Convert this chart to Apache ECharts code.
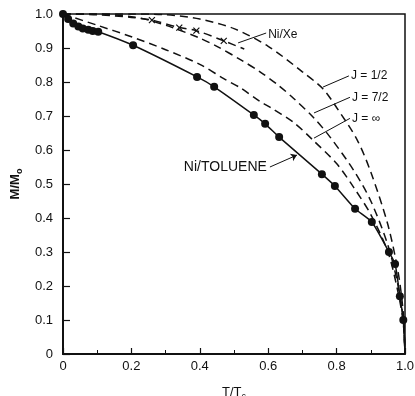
<!DOCTYPE html>
<html>
<head>
<meta charset="utf-8">
<script src="https://cdn.jsdelivr.net/npm/echarts@6/dist/echarts.min.js"></script>
<style>
  html, body { margin: 0; padding: 0; background: #fff; }
  #chart { width: 415px; height: 396px; }
</style>
</head>
<body>
<div id="chart"></div>
<script>
// [T/Tc, M/Mo]
const jHalf = [[0, 1], [0.2, 1], [0.3, 0.998], [0.4, 0.985], [0.5, 0.957], [0.6, 0.905], [0.7, 0.83],
  [0.76, 0.78], [0.8, 0.725], [0.86, 0.63], [0.9, 0.535], [0.95, 0.38], [0.98, 0.24], [0.995, 0.12], [1, 0]];
const jSevenHalf = [[0, 1], [0.1, 1], [0.2, 0.992], [0.25, 0.982], [0.32, 0.96], [0.4, 0.929], [0.45, 0.905],
  [0.52, 0.865], [0.576, 0.83], [0.63, 0.79], [0.673, 0.753], [0.731, 0.697], [0.781, 0.638], [0.85, 0.54],
  [0.9, 0.45], [0.95, 0.32], [0.98, 0.2], [0.995, 0.1], [1, 0]];
const jInfinity = [[0, 1], [0.1, 0.967], [0.2, 0.933], [0.3, 0.895], [0.4, 0.852], [0.47, 0.81], [0.52, 0.782],
  [0.576, 0.743], [0.605, 0.726], [0.673, 0.682], [0.731, 0.629], [0.8, 0.56], [0.85, 0.49], [0.9, 0.41],
  [0.95, 0.3], [0.98, 0.18], [0.995, 0.09], [1, 0]];
const niXeLine = [[0, 1], [0.1, 0.998], [0.2, 0.99], [0.26, 0.982], [0.34, 0.96], [0.39, 0.951], [0.47, 0.921], [0.53, 0.897]];
const niXePoints = [[0.26, 0.982], [0.34, 0.96], [0.39, 0.951], [0.47, 0.921]];
const tolueneLine = [[0, 1], [0.015, 0.985], [0.03, 0.972], [0.045, 0.963], [0.058, 0.957], [0.074, 0.954],
  [0.087, 0.95], [0.103, 0.948], [0.205, 0.908], [0.392, 0.815], [0.442, 0.786], [0.558, 0.703], [0.591, 0.677],
  [0.632, 0.638], [0.757, 0.529], [0.795, 0.494], [0.854, 0.427], [0.903, 0.388], [0.953, 0.3], [0.971, 0.265],
  [0.985, 0.17], [0.995, 0.1], [1, 0]];
const toluenePoints = tolueneLine.slice(0, -1);

// annotation labels: [text, t, m, align] and pointer segments [[t1, m1], [t2, m2]]
const labels = [
  ["Ni/Xe", 0.6, 0.94, "left"],
  ["J = 1/2", 0.842, 0.818, "left"],
  ["J = 7/2", 0.845, 0.755, "left"],
  ["J = \u221E", 0.845, 0.693, "left"],
  ["Ni/TOLUENE", 0.596, 0.55, "right"],
];
const pointers = [
  [[0.594, 0.944], [0.512, 0.915]],
  [[0.836, 0.818], [0.76, 0.785]],
  [[0.839, 0.755], [0.734, 0.709]],
  [[0.839, 0.693], [0.734, 0.635]],
];
const toluenePointer = [[0.605, 0.55], [0.684, 0.585]];

const FONT = "Liberation Sans";
const INK = "#111";
const chart = echarts.init(document.getElementById("chart"), null, { renderer: "canvas" });

const dashed = (data) => ({
  type: "line",
  data,
  symbol: "none",
  smooth: 0.3,
  lineStyle: { color: INK, width: 1.5, type: [8, 5] },
  z: 2,
});

chart.setOption({
  backgroundColor: "#fff",
  animation: false,
  textStyle: { fontFamily: FONT, color: INK },
  grid: {
    left: 63, right: 10, top: 14, bottom: 42,
    outerBoundsMode: "none",
    containLabel: false,
    show: true, borderColor: INK, borderWidth: 1.5,
  },
  xAxis: {
    type: "value", min: 0, max: 1, interval: 0.2,
    name: "{a|T/T}{s|c}",
    nameLocation: "middle", nameGap: 30,
    nameTextStyle: {
      rich: {
        a: { fontFamily: FONT, fontSize: 13, color: INK },
        s: { fontFamily: FONT, fontSize: 9, color: INK, padding: [8, 0, 0, 0] },
      },
    },
    axisLine: { lineStyle: { color: INK, width: 2 } },
    axisTick: { inside: true, length: 6, lineStyle: { color: INK, width: 1.2 } },
    minorTick: { show: true, splitNumber: 2, length: 4, lineStyle: { color: INK, width: 1 } },
    splitLine: { show: false },
    axisLabel: {
      fontSize: 13, color: INK, margin: 6, fontFamily: FONT,
      formatter: (v) => (v === 0 ? "0" : v.toFixed(1)),
    },
  },
  yAxis: {
    type: "value", min: 0, max: 1, interval: 0.1,
    name: "{a|M/M}{s|o}",
    nameLocation: "middle", nameGap: 38, nameRotate: 90,
    nameTextStyle: {
      rich: {
        a: { fontFamily: FONT, fontSize: 13, fontWeight: "bold", color: INK },
        s: { fontFamily: FONT, fontSize: 9, fontWeight: "bold", color: INK, padding: [8, 0, 0, 0] },
      },
    },
    axisLine: { lineStyle: { color: INK, width: 2 } },
    axisTick: { inside: true, length: 7, lineStyle: { color: INK, width: 1.2 } },
    splitLine: { show: false },
    axisLabel: {
      fontSize: 13, color: INK, margin: 10, fontFamily: FONT,
      formatter: (v) => (v === 0 ? "0" : v.toFixed(1)),
    },
  },
  series: [
    dashed(jHalf),
    dashed(jSevenHalf),
    dashed(jInfinity),
    dashed(niXeLine),
    {
      type: "scatter",
      data: niXePoints,
      symbol: "path://M0,0L10,10M10,0L0,10",
      symbolSize: 6,
      itemStyle: { color: INK, borderColor: INK, borderWidth: 1.2, opacity: 1 },
      z: 3,
    },
    {
      type: "line",
      data: tolueneLine,
      symbol: "none",
      smooth: 0.2,
      lineStyle: { color: INK, width: 1.5 },
      z: 2,
      markLine: {
        silent: true,
        symbol: ["none", "arrow"],
        symbolSize: 6,
        label: { show: false },
        lineStyle: { color: INK, width: 1, type: "solid", opacity: 1 },
        data: [[{ coord: toluenePointer[0] }, { coord: toluenePointer[1] }]],
      },
    },
    {
      type: "scatter",
      data: toluenePoints,
      symbol: "circle",
      symbolSize: 8,
      itemStyle: { color: INK, opacity: 1 },
      z: 4,
    },
    {
      type: "scatter",
      data: labels.map(([text, t, m, align]) => ({
        value: [t, m],
        label: {
          show: true,
          formatter: text,
          position: align === "left" ? "right" : "left",
          distance: 0,
          fontFamily: FONT,
          fontSize: text === "Ni/TOLUENE" ? 14 : 12,
          color: INK,
          opacity: 1,
        },
      })),
      symbolSize: 0,
      itemStyle: { opacity: 1 },
      silent: true,
      markLine: {
        silent: true,
        symbol: "none",
        label: { show: false },
        lineStyle: { color: INK, width: 1, type: "solid", opacity: 1 },
        data: pointers.map(([a, b]) => [{ coord: a }, { coord: b }]),
      },
      z: 5,
    },
  ],
});
</script>
</body>
</html>
